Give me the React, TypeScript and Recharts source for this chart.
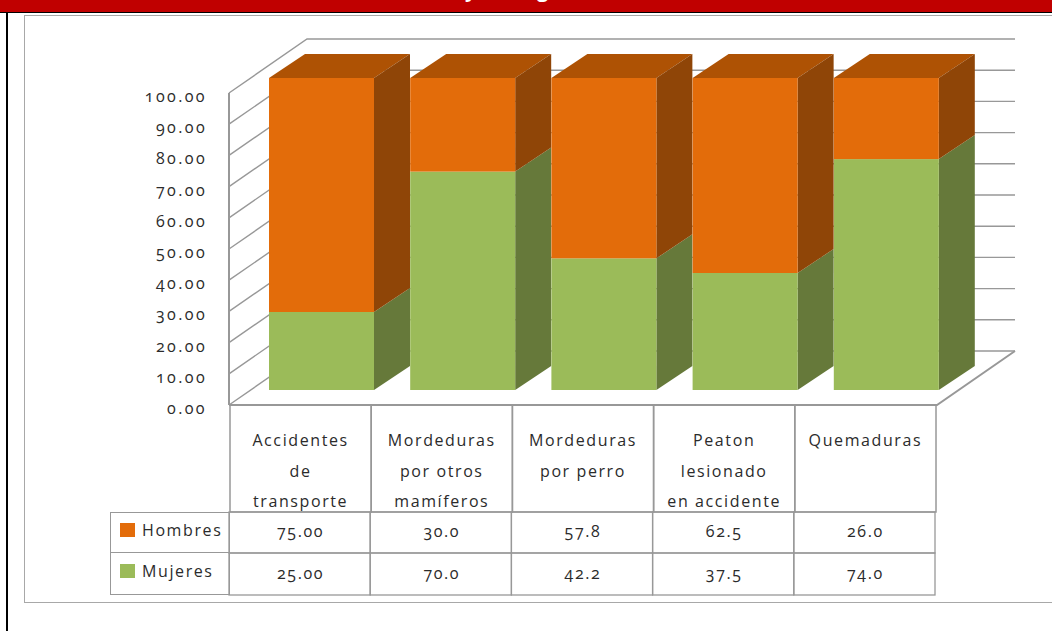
import { BarChart, Bar, XAxis, YAxis, CartesianGrid, Legend } from 'recharts'

const categories = ['Accidentes de transporte', 'Mordeduras por otros mamíferos', 'Mordeduras por perro', 'Peaton lesionado en accidente', 'Quemaduras']
const categoryLines = [
    ['Accidentes', 'de', 'transporte'],
    ['Mordeduras', 'por otros', 'mamíferos'],
    ['Mordeduras', 'por perro'],
    ['Peaton', 'lesionado', 'en accidente'],
    ['Quemaduras'],
]
const hombres = [75, 30, 57.8, 62.5, 26]
const mujeres = [25, 70, 42.2, 37.5, 74]
const hombresLabels = ['75.00', '30.0', '57.8', '62.5', '26.0']
const mujeresLabels = ['25.00', '70.0', '42.2', '37.5', '74.0']
const yTicks = [0, 10, 20, 30, 40, 50, 60, 70, 80, 90, 100]

const data = categories.map((name, i) => ({ name, Hombres: hombres[i], Mujeres: mujeres[i] }))

const FONT = '"Open Sans", sans-serif'
const TEXT = '#2b2b2b'
const LINE = '#989898'
const ORANGE = { front: '#e36c0a', top: '#ae5204', side: '#8f4507' }
const GREEN = { front: '#9bbb59', top: '#7d9a45', side: '#66793a' }

// plot area is the plane of the bar fronts, walls get drawn around it
const PLOT = { left: 251, right: 957, top: 78, bottom: 390 }
const CELL_W = (PLOT.right - PLOT.left) / categories.length

function Bar3D(props: any, colors: any, withTop: boolean) {
    const { x, y, width: w, height: h } = props
    const dx = 36
    const dy = 24
    return (
        <g>
            {withTop && <polygon points={`${x},${y} ${x + dx},${y - dy} ${x + w + dx},${y - dy} ${x + w},${y}`} fill={colors.top} />}
            <polygon points={`${x + w},${y} ${x + w + dx},${y - dy} ${x + w + dx},${y + h - dy} ${x + w},${y + h}`} fill={colors.side} />
            <rect x={x} y={y} width={w} height={h} fill={colors.front} />
        </g>
    )
}

function WallLine(props: any) {
    const { x1, x2, y1 } = props
    const isFloor = Math.abs(y1 - PLOT.bottom) < 1
    const isTop = Math.abs(y1 - PLOT.top) < 1
    return (
        <g fill="none" stroke={LINE} strokeWidth={1.4} key={props.key}>
            <polyline points={`${x1 - 22},${y1 + 15} ${x1 + 56},${y1 - 39} ${x2 + 58},${y1 - 39}`} />
            {isFloor && <polyline points={`${x1 - 22},${y1 + 15} ${x2 - 20},${y1 + 15} ${x2 + 58},${y1 - 39}`} strokeWidth={2} />}
            {isTop && <line x1={x1 - 22} y1={y1 + 15} x2={x1 - 22} y2={y1 + 15 + PLOT.bottom - PLOT.top} strokeWidth={2} />}
        </g>
    )
}

function YTick(props: any) {
    const { y, payload } = props
    return (
        <text x={207} y={y + 24} textAnchor="end" fontFamily={FONT} fontSize={16} fill={TEXT} style={{ fontFeatureSettings: '"onum"' }} letterSpacing={2.4}>
            {Number(payload.value).toFixed(2)}
        </text>
    )
}

// category names and the data table hang off the x axis ticks
function TableTick(props: any) {
    const { x, index } = props
    const left = x - CELL_W / 2 - 21
    const cx = x - 21
    const lines = categoryLines[index]
    return (
        <g fontFamily={FONT} fontSize={16} fill={TEXT} textAnchor="middle" style={{ fontFeatureSettings: '"onum"' }} letterSpacing={1.6}>
            <rect x={left} y={405} width={CELL_W} height={107} fill="none" stroke={LINE} strokeWidth={1.5} />
            <rect x={left - 1} y={512} width={CELL_W} height={41} fill="none" stroke={LINE} strokeWidth={1.3} />
            <rect x={left - 1} y={553} width={CELL_W} height={42} fill="none" stroke={LINE} strokeWidth={1.3} />
            {lines.map((line, i) => (
                <text key={line} x={cx} y={446 + i * 30.5}>{line}</text>
            ))}
            <text x={cx} y={537}>{hombresLabels[index]}</text>
            <text x={cx} y={579}>{mujeresLabels[index]}</text>
        </g>
    )
}

function LegendTable({ payload }: any) {
    return (
        <div style={{ width: 120, height: 83, fontFamily: FONT, fontSize: 16, color: TEXT, letterSpacing: 1.6 }}>
            {(payload || []).map((item: any, i: number) => (
                <div key={item.value} style={{ boxSizing: 'border-box', height: i === 0 ? 41 : 42, display: 'flex', alignItems: 'center', paddingLeft: 9, paddingBottom: 5, border: `1px solid ${LINE}`, borderTop: i === 0 ? `1px solid ${LINE}` : 'none' }}>
                    <span style={{ width: 15, height: 14, background: item.color, marginRight: 7, flex: 'none' }} />
                    {item.value}
                </div>
            ))}
        </div>
    )
}

export default function App() {
    return (
        <div style={{ position: 'absolute', left: 0, top: 0, width: 1052, height: 631, background: '#fff', overflow: 'hidden' }}>
            <div style={{ position: 'absolute', left: 0, top: 0, width: 1052, height: 12, background: '#c00000', borderBottom: '1.5px solid #000', overflow: 'hidden' }}>
                {/* the title is cut off in the reference, only two descenders show */}
                <svg width={1052} height={12} style={{ display: 'block' }}>
                    <text x={465} y={-3} fontFamily={FONT} fontWeight={700} fontSize={20} fill="#fff">y</text>
                    <text x={537} y={-3} fontFamily={FONT} fontWeight={700} fontSize={20} fill="#fff">g</text>
                </svg>
            </div>
            <div style={{ position: 'absolute', left: 6, top: 12, width: 2, height: 619, background: '#000' }} />
            <div style={{ position: 'absolute', left: 24, top: 15, width: 1040, height: 586, border: '1.5px solid #a8a8a8' }} />
            <div style={{ position: 'absolute', left: 0, top: 0 }}>
                <BarChart
                    width={1052}
                    height={631}
                    data={data}
                    margin={{ top: PLOT.top, right: 1052 - PLOT.right, bottom: 0, left: PLOT.left - 60 }}
                    barSize={105}
                >
                    <CartesianGrid vertical={false} horizontal={(p: any) => <WallLine {...p} />} />
                    <XAxis dataKey="name" axisLine={false} tickLine={false} height={158} interval={0} tick={(p: any) => <TableTick {...p} />} />
                    <YAxis width={60} domain={[0, 100]} ticks={yTicks} interval={0} axisLine={false} tickLine={false} tick={(p: any) => <YTick {...p} />} />
                    <Legend content={<LegendTable />} wrapperStyle={{ left: 110, top: 512, width: 120, height: 83, bottom: 'auto' }} />
                    <Bar dataKey="Mujeres" stackId="a" fill={GREEN.front} isAnimationActive={false} shape={(p: any) => Bar3D(p, GREEN, false)} />
                    <Bar dataKey="Hombres" stackId="a" fill={ORANGE.front} isAnimationActive={false} shape={(p: any) => Bar3D(p, ORANGE, true)} />
                </BarChart>
            </div>
        </div>
    )
}
